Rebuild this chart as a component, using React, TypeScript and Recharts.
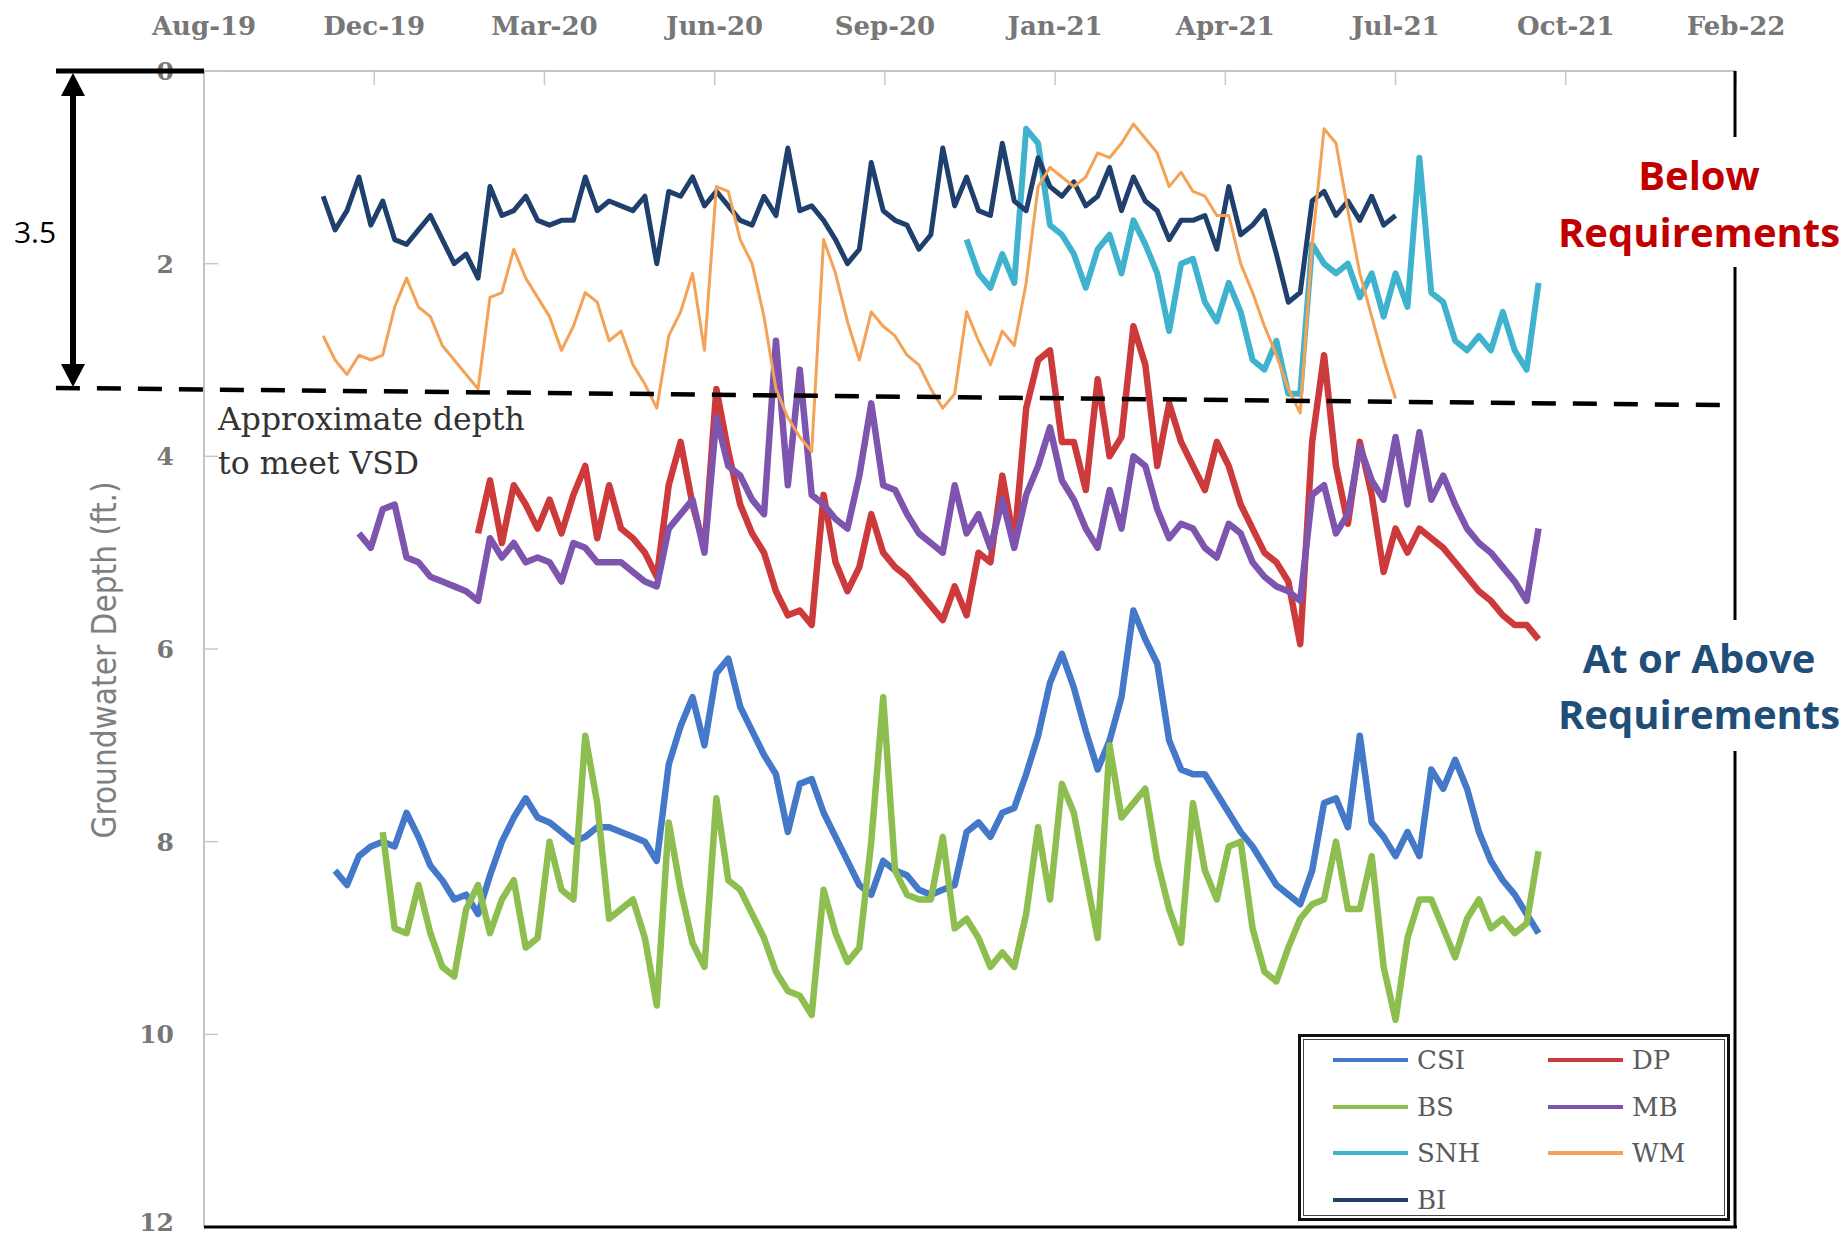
import React from 'react';
import { LineChart, Line, XAxis, YAxis, ReferenceLine, Legend } from 'recharts';

// top axis: one label every 100 days from the axis start
const xTickLabels = ['Aug-19', 'Dec-19', 'Mar-20', 'Jun-20', 'Sep-20', 'Jan-21', 'Apr-21', 'Jul-21', 'Oct-21', 'Feb-22'];
const xTicks = [0, 100, 200, 300, 400, 500, 600, 700, 800, 900];
const yTicks = [0, 2, 4, 6, 8, 10, 12];

// readings are weekly, day counted from the axis start
const STEP = 7;
const FIRST_DAY = 70;
const LAST_DAY = 784;

const csiStart = 77;
const csi = [
  8.3, 8.45, 8.15, 8.05, 8.0, 8.05, 7.7, 7.95, 8.25, 8.4,
  8.6, 8.55, 8.75, 8.35, 8.0, 7.75, 7.55, 7.75, 7.8, 7.9,
  8.0, 7.95, 7.85, 7.85, 7.9, 7.95, 8.0, 8.2, 7.2, 6.8,
  6.5, 7.0, 6.25, 6.1, 6.6, 6.85, 7.1, 7.3, 7.9, 7.4,
  7.35, 7.7, 7.95, 8.2, 8.45, 8.55, 8.2, 8.3, 8.35, 8.5,
  8.55, 8.5, 8.45, 7.9, 7.8, 7.95, 7.7, 7.65, 7.3, 6.9,
  6.35, 6.05, 6.4, 6.85, 7.25, 6.95, 6.5, 5.6, 5.9, 6.15,
  6.95, 7.25, 7.3, 7.3, 7.5, 7.7, 7.9, 8.05, 8.25, 8.45,
  8.55, 8.65, 8.3, 7.6, 7.55, 7.85, 6.9, 7.8, 7.95, 8.15,
  7.9, 8.15, 7.25, 7.45, 7.15, 7.45, 7.9, 8.2, 8.4, 8.55,
  8.75, 8.95,
];

const dpStart = 161;
const dp = [
  4.8, 4.25, 4.9, 4.3, 4.5, 4.75, 4.45, 4.8, 4.4, 4.1,
  4.85, 4.3, 4.75, 4.85, 5.0, 5.25, 4.3, 3.85, 4.5, 4.95,
  3.3, 3.95, 4.5, 4.8, 5.0, 5.4, 5.65, 5.6, 5.75, 4.4,
  5.1, 5.4, 5.15, 4.6, 5.0, 5.15, 5.25, 5.4, 5.55, 5.7,
  5.35, 5.65, 5.0, 5.1, 4.2, 4.9, 3.5, 3.0, 2.9, 3.85,
  3.85, 4.35, 3.2, 4.0, 3.8, 2.65, 3.05, 4.1, 3.45, 3.85,
  4.1, 4.35, 3.85, 4.1, 4.5, 4.75, 5.0, 5.1, 5.3, 5.95,
  3.85, 2.95, 4.1, 4.7, 3.85, 4.4, 5.2, 4.75, 5.0, 4.75,
  4.85, 4.95, 5.1, 5.25, 5.4, 5.5, 5.65, 5.75, 5.75, 5.9,
];

const bsStart = 105;
const bs = [
  7.9, 8.9, 8.95, 8.45, 8.95, 9.3, 9.4, 8.7, 8.45, 8.95,
  8.6, 8.4, 9.1, 9.0, 8.0, 8.5, 8.6, 6.9, 7.6, 8.8,
  8.7, 8.6, 9.0, 9.7, 7.8, 8.5, 9.05, 9.3, 7.55, 8.4,
  8.5, 8.75, 9.0, 9.35, 9.55, 9.6, 9.8, 8.5, 8.95, 9.25,
  9.1, 8.0, 6.5, 8.3, 8.55, 8.6, 8.6, 7.95, 8.9, 8.8,
  9.0, 9.3, 9.15, 9.3, 8.75, 7.85, 8.6, 7.4, 7.7, 8.35,
  9.0, 7.0, 7.75, 7.6, 7.45, 8.2, 8.7, 9.05, 7.6, 8.3,
  8.6, 8.05, 8.0, 8.9, 9.35, 9.45, 9.1, 8.8, 8.65, 8.6,
  8.0, 8.7, 8.7, 8.15, 9.3, 9.85, 9.0, 8.6, 8.6, 8.9,
  9.2, 8.8, 8.6, 8.9, 8.8, 8.95, 8.85, 8.1,
];

const mbStart = 91;
const mb = [
  4.8, 4.95, 4.55, 4.5, 5.05, 5.1, 5.25, 5.3, 5.35, 5.4,
  5.5, 4.85, 5.05, 4.9, 5.1, 5.05, 5.1, 5.3, 4.9, 4.95,
  5.1, 5.1, 5.1, 5.2, 5.3, 5.35, 4.75, 4.6, 4.45, 5.0,
  3.6, 4.1, 4.2, 4.45, 4.6, 2.8, 4.3, 3.1, 4.4, 4.5,
  4.65, 4.75, 4.2, 3.45, 4.3, 4.35, 4.6, 4.8, 4.9, 5.0,
  4.3, 4.8, 4.6, 4.95, 4.45, 4.95, 4.4, 4.1, 3.7, 4.25,
  4.45, 4.75, 4.95, 4.35, 4.75, 4.0, 4.1, 4.55, 4.85, 4.7,
  4.75, 4.95, 5.05, 4.7, 4.8, 5.1, 5.25, 5.35, 5.4, 5.5,
  4.4, 4.3, 4.8, 4.6, 3.9, 4.25, 4.45, 3.8, 4.5, 3.75,
  4.45, 4.2, 4.5, 4.75, 4.9, 5.0, 5.15, 5.3, 5.5, 4.75,
];

const snhStart = 448;
const snh = [
  1.75, 2.1, 2.25, 1.9, 2.2, 0.6, 0.75, 1.6, 1.7, 1.9,
  2.25, 1.85, 1.7, 2.1, 1.55, 1.8, 2.1, 2.7, 2.0, 1.95,
  2.4, 2.6, 2.2, 2.5, 3.0, 3.1, 2.8, 3.35, 3.35, 1.8,
  2.0, 2.1, 2.0, 2.35, 2.1, 2.55, 2.1, 2.45, 0.9, 2.3,
  2.4, 2.8, 2.9, 2.75, 2.9, 2.5, 2.9, 3.1, 2.2,
];

const wmStart = 70;
const wm = [
  2.75, 3.0, 3.15, 2.95, 3.0, 2.95, 2.45, 2.15, 2.45, 2.55,
  2.85, 3.0, 3.15, 3.3, 2.35, 2.3, 1.85, 2.15, 2.35, 2.55,
  2.9, 2.65, 2.3, 2.4, 2.8, 2.7, 3.05, 3.25, 3.5, 2.75,
  2.5, 2.1, 2.9, 1.2, 1.25, 1.75, 2.0, 2.55, 3.3, 3.6,
  3.8, 3.95, 1.75, 2.1, 2.6, 3.0, 2.5, 2.65, 2.75, 2.95,
  3.05, 3.3, 3.5, 3.35, 2.5, 2.8, 3.05, 2.7, 2.85, 2.2,
  1.2, 1.0, 1.1, 1.2, 1.1, 0.85, 0.9, 0.75, 0.55, 0.7,
  0.85, 1.2, 1.05, 1.25, 1.3, 1.5, 1.5, 2.0, 2.3, 2.65,
  2.95, 3.3, 3.55, 1.8, 0.6, 0.75, 1.45, 2.1, 2.55, 3.0,
  3.4,
];

const biStart = 70;
const bi = [
  1.3, 1.65, 1.45, 1.1, 1.6, 1.35, 1.75, 1.8, 1.65, 1.5,
  1.75, 2.0, 1.9, 2.15, 1.2, 1.5, 1.45, 1.3, 1.55, 1.6,
  1.55, 1.55, 1.1, 1.45, 1.35, 1.4, 1.45, 1.3, 2.0, 1.25,
  1.3, 1.1, 1.4, 1.25, 1.4, 1.55, 1.6, 1.3, 1.5, 0.8,
  1.45, 1.4, 1.55, 1.75, 2.0, 1.85, 0.95, 1.45, 1.55, 1.6,
  1.85, 1.7, 0.8, 1.4, 1.1, 1.45, 1.5, 0.75, 1.35, 1.45,
  0.9, 1.2, 1.3, 1.15, 1.4, 1.3, 1.0, 1.45, 1.1, 1.35,
  1.45, 1.75, 1.55, 1.55, 1.5, 1.85, 1.2, 1.7, 1.6, 1.45,
  1.9, 2.4, 2.3, 1.35, 1.25, 1.5, 1.35, 1.55, 1.3, 1.6,
  1.5,
];

type Series = { key: string; name: string; start: number; values: number[]; color: string; width: number };

// drawing order (later ones sit on top)
const series: Series[] = [
  { key: 'csi', name: 'CSI', start: csiStart, values: csi, color: '#4478C8', width: 6.5 },
  { key: 'bs', name: 'BS', start: bsStart, values: bs, color: '#8DBE4F', width: 6.5 },
  { key: 'dp', name: 'DP', start: dpStart, values: dp, color: '#CC3A3C', width: 6.5 },
  { key: 'mb', name: 'MB', start: mbStart, values: mb, color: '#7E55AE', width: 6.5 },
  { key: 'snh', name: 'SNH', start: snhStart, values: snh, color: '#3FB3CE', width: 6 },
  { key: 'bi', name: 'BI', start: biStart, values: bi, color: '#1F3F6D', width: 5 },
  { key: 'wm', name: 'WM', start: wmStart, values: wm, color: '#F3A256', width: 3 },
];

const legendOrder = ['CSI', 'DP', 'BS', 'MB', 'SNH', 'WM', 'BI'];

const rows: Record<string, number | null>[] = [];
for (let d = FIRST_DAY; d <= LAST_DAY; d += STEP) {
  const row: Record<string, number | null> = { day: d };
  series.forEach((s) => {
    const i = (d - s.start) / STEP;
    row[s.key] = i >= 0 && i < s.values.length ? s.values[i] : null;
  });
  rows.push(row);
}

const W = 1845;
const H = 1240;
const PLOT_LEFT = 204;
const PLOT_TOP = 71;
const PLOT_RIGHT = 1736;
const PLOT_BOTTOM = 1227;

const serif = "'DejaVu Serif', 'Liberation Serif', serif";
const sans = "'Open Sans', 'Noto Sans', sans-serif";

const XTick = (props: any) => {
  const { x, y, payload } = props;
  const idx = xTicks.indexOf(payload.value);
  return (
    <g>
      <line x1={x} x2={x} y1={PLOT_TOP} y2={PLOT_TOP + 14} stroke="#c8c8c8" strokeWidth={1.5} />
      <text x={x} y={y} textAnchor="middle" fill="#777" fontSize={26} fontWeight="bold" fontFamily={serif}>
        {xTickLabels[idx]}
      </text>
    </g>
  );
};

const YTick = (props: any) => {
  const { x, y, payload } = props;
  // the bottom label sits on the page edge, keep it inside
  const dy = payload.value === 12 ? 4 : 9;
  return (
    <g>
      <line x1={PLOT_LEFT} x2={PLOT_LEFT + 14} y1={y} y2={y} stroke="#c8c8c8" strokeWidth={1.5} />
      <text x={x} y={y + dy} textAnchor="end" fill="#777" fontSize={25} fontWeight="bold" fontFamily={serif}>
        {payload.value}
      </text>
    </g>
  );
};

const renderLegend = (props: any) => {
  const items = [...(props.payload || [])].sort(
    (a: any, b: any) => legendOrder.indexOf(a.value) - legendOrder.indexOf(b.value)
  );
  return (
    <div
      style={{
        boxSizing: 'border-box',
        width: 432,
        height: 187,
        border: '3px solid #111',
        boxShadow: 'inset 0 0 0 2px #fff, inset 0 0 0 3px #444',
        background: '#fff',
        display: 'grid',
        gridTemplateColumns: '215px 180px',
        gridAutoRows: '46.5px',
        paddingLeft: 32,
      }}
    >
      {items.map((it: any) => (
        <div key={it.value} style={{ display: 'flex', alignItems: 'center' }}>
          <span style={{ display: 'inline-block', width: 75, height: 4, background: it.color, marginRight: 9 }} />
          <span style={{ fontFamily: serif, fontSize: 26, color: '#5a5a5a', lineHeight: 1 }}>{it.value}</span>
        </div>
      ))}
    </div>
  );
};

const App: React.FC = () => {
  return (
    <div style={{ position: 'absolute', left: 0, top: 0, width: W, height: H, background: '#fff' }}>
      <LineChart
        width={W}
        height={H}
        data={rows}
        margin={{ top: PLOT_TOP - 50, right: W - PLOT_RIGHT, bottom: H - PLOT_BOTTOM, left: PLOT_LEFT - 60 }}
      >
        <XAxis
          dataKey="day"
          type="number"
          orientation="top"
          domain={[0, 900]}
          ticks={xTicks}
          interval={0}
          height={50}
          axisLine={{ stroke: '#c4c4c4', strokeWidth: 2 }}
          tickLine={false}
          tickSize={0}
          tickMargin={36}
          tick={XTick}
        />
        <YAxis
          type="number"
          domain={[0, 12]}
          ticks={yTicks}
          interval={0}
          reversed
          width={60}
          axisLine={{ stroke: '#c4c4c4', strokeWidth: 2 }}
          tickLine={false}
          tickSize={0}
          tickMargin={30}
          tick={YTick}
        />
        {series.map((s) => (
          <Line
            key={s.key}
            dataKey={s.key}
            name={s.name}
            type="linear"
            stroke={s.color}
            strokeWidth={s.width}
            strokeLinejoin="round"
            dot={false}
            activeDot={false}
            connectNulls={false}
            isAnimationActive={false}
          />
        ))}
        <ReferenceLine
          segment={[{ x: -87, y: 3.29 }, { x: 900, y: 3.47 }]}
          stroke="#000"
          strokeWidth={4.5}
          strokeDasharray="24 17"
          ifOverflow="visible"
        />
        <Legend
          verticalAlign="middle"
          align="center"
          layout="horizontal"
          wrapperStyle={{ left: 1298, top: 1034, width: 432, height: 187 }}
          content={renderLegend}
        />
      </LineChart>

      <svg width={W} height={H} style={{ position: 'absolute', left: 0, top: 0, pointerEvents: 'none' }}>
        {/* frame pieces drawn in black on the original */}
        <line x1={1735} x2={1735} y1={PLOT_TOP} y2={PLOT_BOTTOM} stroke="#000" strokeWidth={3} />
        <line x1={PLOT_LEFT} x2={1737} y1={PLOT_BOTTOM} y2={PLOT_BOTTOM} stroke="#000" strokeWidth={3} />

        {/* 3.5 ft bracket */}
        <line x1={56} x2={PLOT_LEFT} y1={PLOT_TOP} y2={PLOT_TOP} stroke="#000" strokeWidth={5} />
        <line x1={73} x2={73} y1={92} y2={366} stroke="#000" strokeWidth={6} />
        <polygon points="73,73 61,96 85,96" fill="#000" />
        <polygon points="73,387 61,364 85,364" fill="#000" />
        <text x={35} y={243} textAnchor="middle" fontFamily={sans} fontSize={30} fill="#000">3.5</text>

        <text x={218} y={430} fontFamily={serif} fontSize={31.5} fill="#333">Approximate depth</text>
        <text x={218} y={474} fontFamily={serif} fontSize={31.5} fill="#333">to meet VSD</text>

        <text
          x={104}
          y={660}
          transform="rotate(-90 104 660)"
          textAnchor="middle"
          dominantBaseline="central"
          fontFamily="'Liberation Sans Narrow', 'DejaVu Sans Condensed', 'Open Sans', sans-serif"
          fontSize={33}
          fill="#7f7f7f"
        >
          Groundwater Depth (ft.)
        </text>

        <rect x={1556} y={137} width={289} height={130} fill="#fff" />
        <text x={1699} y={190} textAnchor="middle" fontFamily={sans} fontWeight="bold" fontSize={40} fill="#C00000">Below</text>
        <text x={1699} y={247} textAnchor="middle" fontFamily={sans} fontWeight="bold" fontSize={40} fill="#C00000">Requirements</text>

        <rect x={1556} y={620} width={289} height={131} fill="#fff" />
        <text x={1699} y={673} textAnchor="middle" fontFamily={sans} fontWeight="bold" fontSize={40} fill="#1F4E79">At or Above</text>
        <text x={1699} y={729} textAnchor="middle" fontFamily={sans} fontWeight="bold" fontSize={40} fill="#1F4E79">Requirements</text>
      </svg>
    </div>
  );
};

export default App;
